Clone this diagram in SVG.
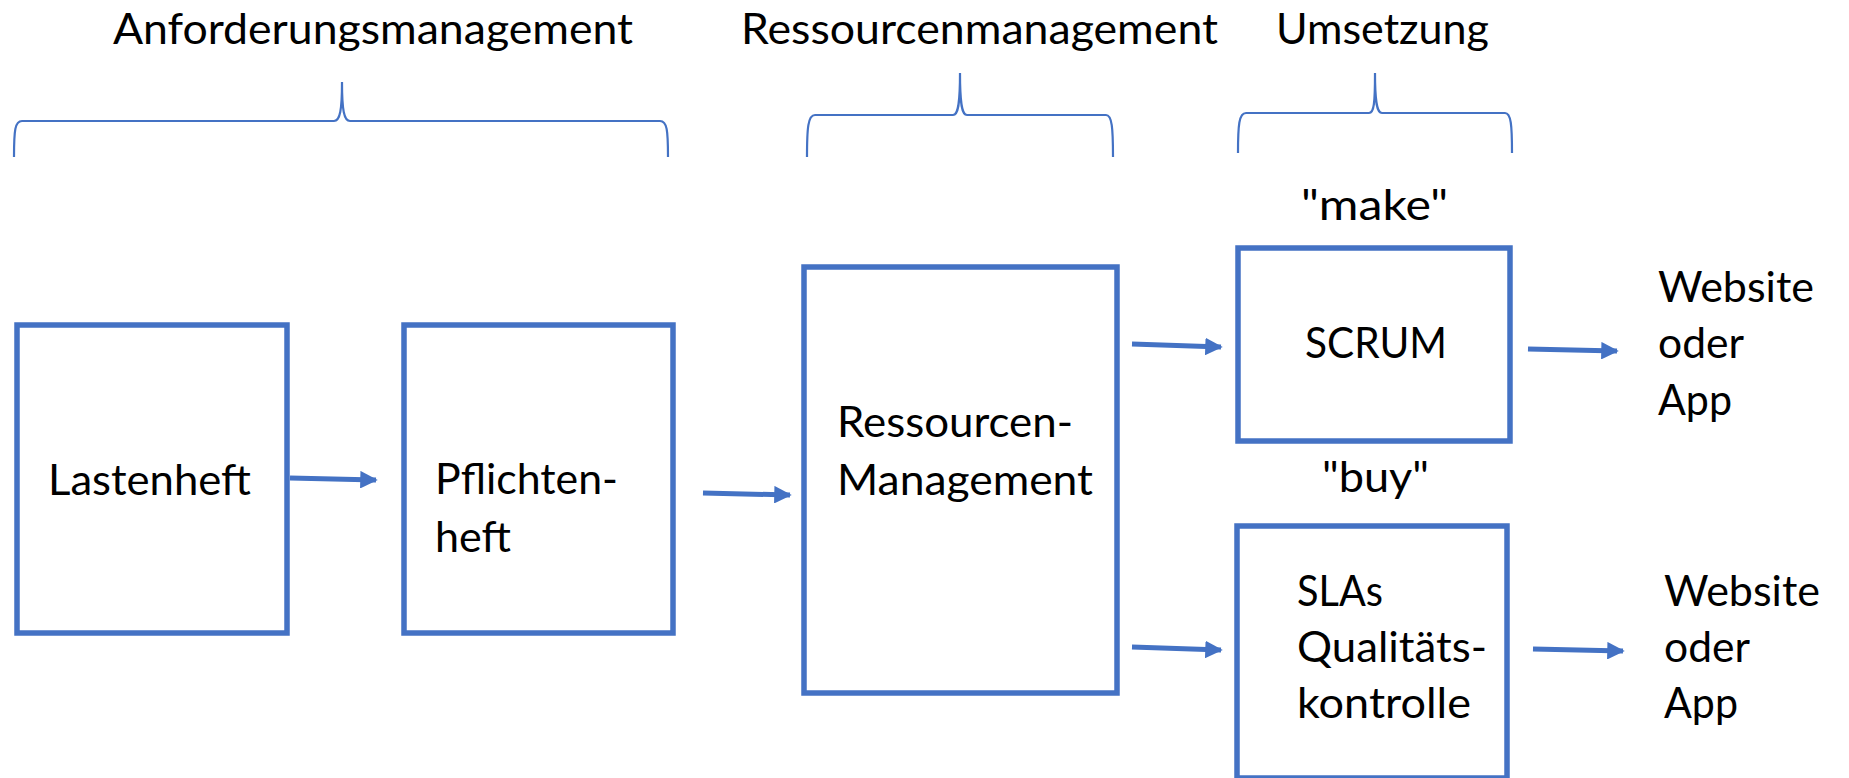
<svg xmlns="http://www.w3.org/2000/svg" width="1849" height="778" viewBox="0 0 1849 778">
<defs>
<style>
.box{fill:#fff;stroke:#4472C4;stroke-width:5.5}
.brace{fill:none;stroke:#4472C4;stroke-width:2.2}
.arr{fill:none;stroke:#4472C4;stroke-width:5}
text{font-family:Lato,"Liberation Sans",sans-serif;font-size:42px;fill:#000}
</style>
<marker id="ah" viewBox="0 0 10 10" refX="9" refY="5" markerWidth="3.5" markerHeight="3.5" markerUnits="strokeWidth" orient="auto">
<path d="M0,0 L10,5 L0,10 Z" fill="#4472C4"/>
</marker>
</defs>
<rect width="1849" height="778" fill="#fff"/>
<g id="headers">
<text x="113" y="44" textLength="520" lengthAdjust="spacingAndGlyphs">Anforderungsmanagement</text>
<text x="741" y="44" textLength="477" lengthAdjust="spacingAndGlyphs">Ressourcenmanagement</text>
<text x="1276" y="44" textLength="213" lengthAdjust="spacingAndGlyphs">Umsetzung</text>
</g>
<g id="braces">
<path class="brace" d="M14,157 C14,130 15,121 22,121 L334,121 C340,121 342,110 342,82 C342,110 344,121 350,121 L660,121 C667,121 668,130 668,157"/>
<path class="brace" d="M807,157 C807,128 808,115 815,115 L953,115 C958,115 960,105 960,73 C960,105 962,115 967,115 L1106,115 C1112,115 1113,128 1113,157"/>
<path class="brace" d="M1238,153 C1238,125 1239,113 1246,113 L1369,113 C1374,113 1375,103 1375,73 C1375,103 1377,113 1382,113 L1505,113 C1511,113 1512,125 1512,153"/>
</g>
<g id="lastenheft">
<rect class="box" x="17" y="325" width="270" height="308"/>
<text x="48" y="495" textLength="203" lengthAdjust="spacingAndGlyphs">Lastenheft</text>
</g>
<g id="pflichtenheft">
<rect class="box" x="404" y="325" width="269" height="308"/>
<text x="435" y="494" textLength="183" lengthAdjust="spacingAndGlyphs">Pflichten-</text>
<text x="435" y="552" textLength="76" lengthAdjust="spacingAndGlyphs">heft</text>
</g>
<g id="ressourcen">
<rect class="box" x="804" y="267" width="313" height="426"/>
<text x="837" y="437" textLength="236" lengthAdjust="spacingAndGlyphs">Ressourcen-</text>
<text x="837" y="495" textLength="256" lengthAdjust="spacingAndGlyphs">Management</text>
</g>
<g id="scrum">
<text x="1301" y="220" textLength="147" lengthAdjust="spacingAndGlyphs">"make"</text>
<rect class="box" x="1238" y="248" width="272" height="193"/>
<text x="1305" y="358" textLength="142" lengthAdjust="spacingAndGlyphs">SCRUM</text>
</g>
<g id="slas">
<text x="1322" y="492" textLength="107" lengthAdjust="spacingAndGlyphs">"buy"</text>
<rect class="box" x="1237" y="526" width="270" height="252"/>
<text x="1297" y="606" textLength="86" lengthAdjust="spacingAndGlyphs">SLAs</text>
<text x="1297" y="662" textLength="190" lengthAdjust="spacingAndGlyphs">Qualitäts-</text>
<text x="1297" y="718" textLength="174" lengthAdjust="spacingAndGlyphs">kontrolle</text>
</g>
<g id="result-make">
<text x="1658" y="302" textLength="156" lengthAdjust="spacingAndGlyphs">Website</text>
<text x="1658" y="358" textLength="86" lengthAdjust="spacingAndGlyphs">oder</text>
<text x="1658" y="415" textLength="74" lengthAdjust="spacingAndGlyphs">App</text>
</g>
<g id="result-buy">
<text x="1664" y="606" textLength="156" lengthAdjust="spacingAndGlyphs">Website</text>
<text x="1664" y="662" textLength="86" lengthAdjust="spacingAndGlyphs">oder</text>
<text x="1664" y="718" textLength="74" lengthAdjust="spacingAndGlyphs">App</text>
</g>
<g id="connectors">
<line class="arr" x1="290" y1="478" x2="376" y2="480" marker-end="url(#ah)"/>
<line class="arr" x1="703" y1="493" x2="790" y2="495" marker-end="url(#ah)"/>
<line class="arr" x1="1132" y1="344" x2="1221" y2="347" marker-end="url(#ah)"/>
<line class="arr" x1="1132" y1="647" x2="1221" y2="650" marker-end="url(#ah)"/>
<line class="arr" x1="1528" y1="349" x2="1617" y2="351" marker-end="url(#ah)"/>
<line class="arr" x1="1533" y1="649" x2="1623" y2="651" marker-end="url(#ah)"/>
</g>
</svg>
